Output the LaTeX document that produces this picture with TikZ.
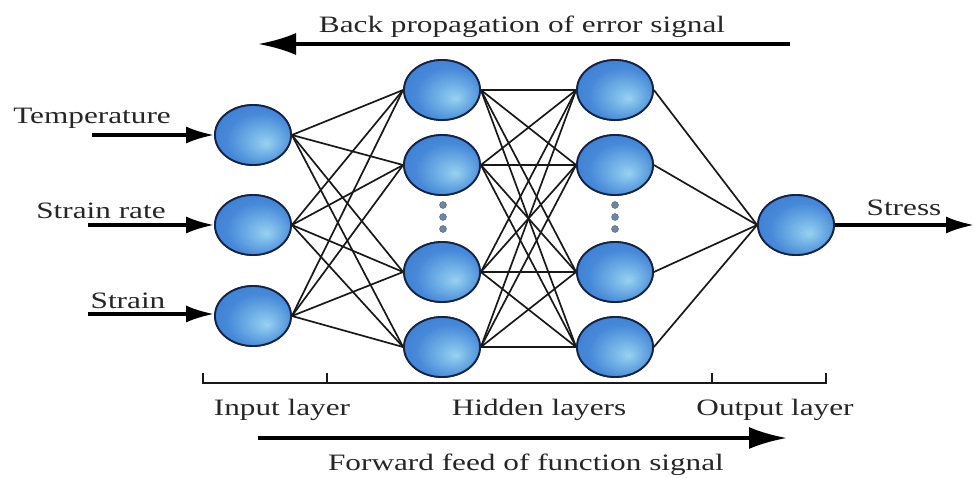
\documentclass[tikz,border=0pt]{standalone}
\usepackage{fontspec}
\setmainfont{Liberation Serif}
\usetikzlibrary{shapes.geometric,arrows.meta}
\newcommand{\sx}[1]{\scalebox{1.33}[1]{#1}}
\pgfdeclareradialshading{nshade}{\pgfpoint{9bp}{-7bp}}{rgb(0bp)=(0.60,0.82,0.94); rgb(8bp)=(0.47,0.72,0.91); rgb(22bp)=(0.28,0.54,0.85); rgb(40bp)=(0.21,0.46,0.80); rgb(50bp)=(0.19,0.43,0.78)}
\tikzset{
  neuron/.style={ellipse, draw={rgb,255:red,20;green,35;blue,70}, line width=1.8pt, minimum width=76pt, minimum height=60pt, inner sep=0pt,
    shading=nshade},
  link/.style={line width=1.7pt, black!90},
  lbl/.style={font=\fontsize{23.5}{27}\selectfont, anchor=base, inner sep=0pt, text=black!85},
  inarrow/.style={line width=3.2pt, -{Latex[length=28pt,width=17pt]}},
  bigarrow/.style={line width=3.8pt, -{Latex[length=38pt,width=22pt]}},
  dotst/.style={ellipse, fill={rgb,255:red,110;green,135;blue,160}, draw={rgb,255:red,80;green,100;blue,120}, minimum width=7pt, minimum height=7pt, inner sep=0pt},
  brk/.style={line width=2pt, black!90}
}
\begin{document}
\begin{tikzpicture}[x=1pt,y=-1pt]
\useasboundingbox (0,0) rectangle (974,477);
% nodes
\node[neuron] (i1) at (253,135) {};
\node[neuron] (i2) at (253,225) {};
\node[neuron] (i3) at (253,316) {};
\node[neuron] (a1) at (442,90) {};
\node[neuron] (a2) at (442,165) {};
\node[neuron] (a3) at (442,272) {};
\node[neuron] (a4) at (442,347) {};
\node[neuron] (b1) at (615,90) {};
\node[neuron] (b2) at (615,165) {};
\node[neuron] (b3) at (615,272) {};
\node[neuron] (b4) at (615,347) {};
\node[neuron] (o) at (796,225) {};
% dots
\node[dotst] (d1) at (443,205) {};
\node[dotst] (d2) at (443,217) {};
\node[dotst] (d3) at (443,229) {};
\node[dotst] (e1) at (615,205) {};
\node[dotst] (e2) at (615,217) {};
\node[dotst] (e3) at (615,229) {};
% links
\foreach \s in {i1,i2,i3}{\foreach \t in {a1,a2,a3,a4}{\draw[link] (\s.east) -- (\t.west);}}
\foreach \s in {a1,a2,a3,a4}{\foreach \t in {b1,b2,b3,b4}{\draw[link] (\s.east) -- (\t.west);}}
\foreach \s in {b1,b2,b3,b4}{\draw[link] (\s.east) -- (o.west);}
% redraw nodes on top
\foreach \n/\x/\y in {i1/253/135,i2/253/225,i3/253/316,a1/442/90,a2/442/165,a3/442/272,a4/442/347,b1/615/90,b2/615/165,b3/615/272,b4/615/347,o/796/225}{\node[neuron] at (\x,\y) {};}
% input arrows
\coordinate (t0) at (92,135);
\coordinate (r0) at (88,225);
\coordinate (s0) at (88,314);
\coordinate (out) at (974,225);
\draw[inarrow] (t0) -- (i1.west);
\draw[inarrow] (r0) -- (i2.west);
\draw[inarrow] (s0) -- (i3.west |- s0);
\draw[inarrow] (o.east) -- (out);
% labels
\node[lbl] (lt) at (92,123) {\sx{Temperature}};
\node[lbl] (lr) at (101,218) {\sx{Strain rate}};
\node[lbl] (ls) at (128,308) {\sx{Strain}};
\node[lbl] (lo) at (904,215) {\sx{Stress}};
% back propagation
\coordinate (bp0) at (790,44);
\coordinate (bp1) at (258,44);
\draw[bigarrow] (bp0) -- (bp1);
\node[lbl] (lb) at (522,32) {\sx{Back propagation of error signal}};
% bracket
\coordinate (k1) at (203,373);
\coordinate (k2) at (327,373);
\coordinate (k3) at (712,373);
\coordinate (k4) at (826,373);
\draw[brk] (k1) -- (203,383) -- (826,383) -- (k4);
\draw[brk] (k2) -- (327,383);
\draw[brk] (k3) -- (712,383);
\node[lbl] (l1) at (282,415) {\sx{Input layer}};
\node[lbl] (l2) at (539,415) {\sx{Hidden layers}};
\node[lbl] (l3) at (775,415) {\sx{Output layer}};
% forward
\coordinate (ff0) at (258,438);
\coordinate (ff1) at (787,438);
\draw[bigarrow] (ff0) -- (ff1);
\node[lbl] (lf) at (526,470) {\sx{Forward feed of function signal}};
\end{tikzpicture}
\end{document}
